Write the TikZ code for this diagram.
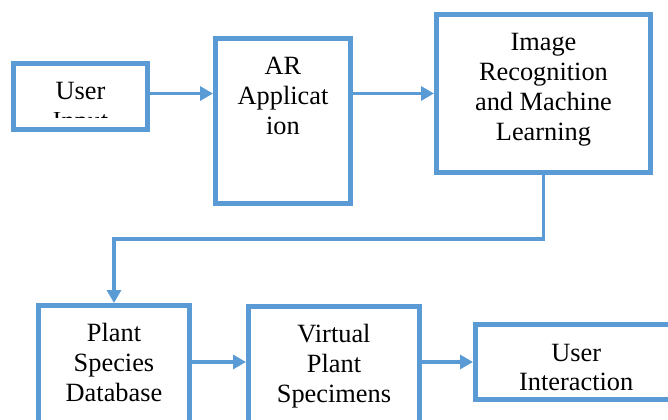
\documentclass[tikz,border=0pt]{standalone}
\usepackage{fontspec}
\setmainfont{Liberation Serif}
\usepackage{trimclip}
\usetikzlibrary{arrows.meta}
\definecolor{boxblue}{HTML}{5B9BD5}

\begin{document}
\begin{tikzpicture}[
    x=0.02cm, y=-0.02cm,
    box/.style 2 args={rectangle, draw=boxblue, line width=0.1cm, fill=white, anchor=north west, align=center, font=\fontsize{15}{17}\selectfont, inner xsep=2pt, inner ysep=0pt, text height=#1, text depth=#2},
    arrow/.style={-{Triangle[length=0.26cm,width=0.28cm]}, draw=boxblue, line width=0.07cm}
]
    \useasboundingbox (0,0) rectangle (668,419);
    \clip (0,0) rectangle (668,419);

    \node[box={37.6pt}{0pt}, minimum width=2.68cm] (input) at (11,61) {User\\\raisebox{6.8pt}{\clipbox{0pt 10pt 0pt 0pt}{Input}}};
    \node[box={54.77pt}{39.12pt}, minimum width=2.70cm] (ar) at (213,36) {AR\\Applicat\\ion};
    \node[box={71.77pt}{18.14pt}, minimum width=4.28cm] (image) at (434,12) {Image\\Recognition\\and Machine\\Learning};
    \node[box={54.77pt}{30.59pt}, minimum width=3.02cm] (plant) at (36,303) {Plant\\Species\\Database};
    \node[box={54.77pt}{30.59pt}, minimum width=3.42cm] (virtual) at (246,304) {Virtual\\Plant\\Specimens};
    \node[box={37.77pt}{4.91pt}, minimum width=4.03cm] (inter) at (473,322) {User\\Interaction};

    \draw[arrow] ([yshift=0.06cm]input.east) -- ([yshift=0.06cm]input.east -| ar.west);
    \draw[arrow] (ar.east |- image.west) -- (image.west);
    \draw[arrow] (image.south) -- ++(0,64) -| (plant.north);
    \draw[arrow] (plant.east |- inter.west) -- (virtual.west |- inter.west);
    \draw[arrow] (virtual.east |- inter.west) -- (inter.west);
\end{tikzpicture}
\end{document}
